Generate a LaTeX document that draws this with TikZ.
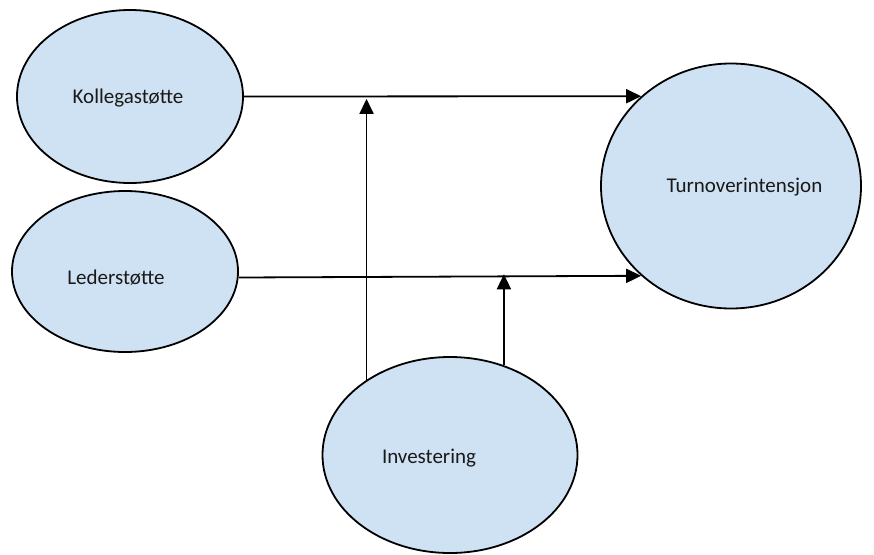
\documentclass[tikz,border=0pt]{standalone}
\usepackage{fontspec}
\setmainfont{Carlito}
\usetikzlibrary{arrows.meta,shapes.geometric}
\definecolor{ellfill}{RGB}{207,226,243}
\begin{document}
\begin{tikzpicture}[x=1pt,y=-1pt,
  ell/.style={ellipse, draw=black, line width=1.8pt, fill=ellfill, inner sep=0pt},
  lbl/.style={font=\fontsize{21}{25}\selectfont, text=black!90, inner sep=0pt},
  arr/.style={line width=1.8pt, -{Triangle[length=15pt,width=14pt]}}]
\useasboundingbox (0,0) rectangle (874,554);
\node[ell, minimum width=226pt, minimum height=173pt] (kol) at (130,96.5) {};
\node[ell, minimum width=226pt, minimum height=161pt] (led) at (125,271.5) {};
\node[ell, minimum width=260pt, minimum height=245pt] (tur) at (731,186) {};
\node[ell, minimum width=255pt, minimum height=196pt] (inv) at (450,455) {};
\node[lbl] (kolt) at (128,98) {Kollegastøtte};
\node[lbl] (ledt) at (116,278) {Lederstøtte};
\node[lbl] (turt) at (744.5,187) {Turnoverintensjon};
\node[lbl] (invt) at (429,458) {Investering};
\draw[arr] (kol.east) -- (tur.135);
\draw[arr] ([yshift=-6pt]led.east) -- (tur.225);
\draw[arr] (inv.138) -- ++(0,-281);
\draw[arr] (inv.59) -- ++(0,-91);
\end{tikzpicture}
\end{document}
